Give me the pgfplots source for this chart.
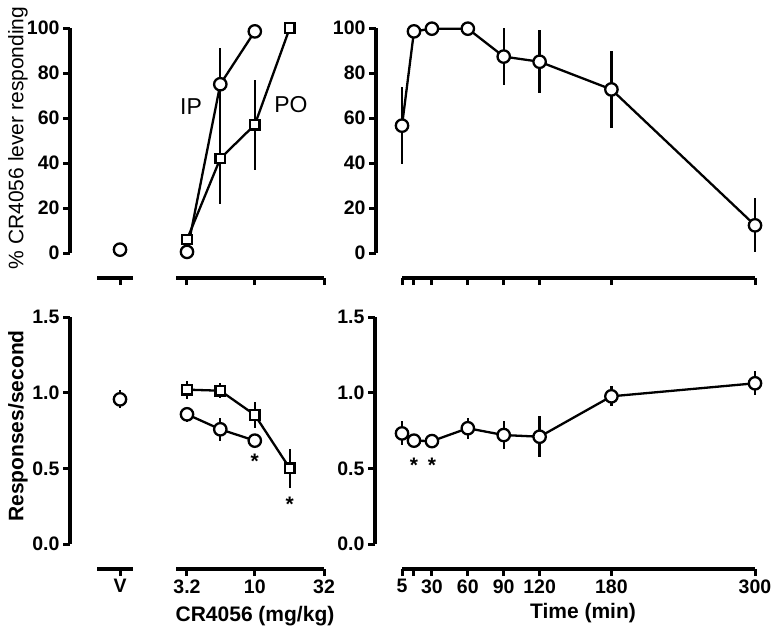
\documentclass[border=0pt]{standalone}
\usepackage{fontspec}
\setmainfont{Liberation Sans}
\usepackage{pgfplots}
\usepackage{pgfplotstable}
\pgfplotsset{compat=1.18}
\newcommand{\tickfont}{\fontsize{19.5}{20}\selectfont\bfseries}
\newcommand{\astfont}{\fontsize{21}{21}\selectfont\bfseries}
% ---- data: x, mean, sem ----
\pgfplotstableread{
x y e
0 1.5 0
}\tlv
\pgfplotstableread{
x y e
3.2 0.5 0.5
5.6 75 16
10 98.5 1
}\tlip
\pgfplotstableread{
x y e
3.2 6 2
5.6 42 20
10 57 20
18 100 0
}\tlpo
\pgfplotstableread{
x y e
5 56.6 17
15 98.5 1
30 99.7 0.5
60 99.7 0.5
90 87.3 12.5
120 85 14
180 72.7 17
300 12.3 12
}\trt
\pgfplotstableread{
x y e
0 0.956 0.06
}\blv
\pgfplotstableread{
x y e
3.2 0.857 0.05
5.6 0.758 0.075
10 0.683 0.03
}\blip
\pgfplotstableread{
x y e
3.2 1.02 0.06
5.6 1.013 0.05
10 0.853 0.085
18 0.50 0.13
}\blpo
\pgfplotstableread{
x y e
5 0.731 0.08
15 0.683 0.02
30 0.68 0.02
60 0.765 0.07
90 0.72 0.095
120 0.709 0.135
180 0.976 0.065
300 1.062 0.08
}\brt
\pgfplotsset{
  base/.style={scale only axis, clip=false,
    axis line style={line width=3.4pt, -},
    every tick/.style={line width=3pt, black},
    tick align=outside, major tick length=7pt,
    ticklabel style={font=\tickfont},
    minor tick num=0},
  yax/.style={base, width=10pt, xmin=0, xmax=1, axis y line*=left, axis x line=none, ytick pos=left},
  seg/.style={base, axis x line*=bottom, axis y line=none, xtick pos=bottom, ytick=\empty},
  errs/.style={black, forget plot, only marks, mark=none,
     error bars/y dir=both, error bars/y explicit, error bars/error mark=none,
     error bars/error bar style={line width=2.4pt}},
  ser/.style={black, line width=2.3pt, mark options={fill=white, line width=2.3pt, solid}},
  circ/.style={mark=*, mark size=6.2pt},
  sq/.style={mark=square*, mark size=4.8pt},
}
\newcommand{\series}[2]{%
  \addplot[errs] table[x=x, y=y, y error=e] {#1};
  \addplot[ser, #2] table[x=x, y=y] {#1};
}
\begin{document}
\begin{tikzpicture}
\useasboundingbox (0,0) rectangle (775pt,-632pt);
% ---------------- top left ----------------
\begin{axis}[yax, at={(70pt,-253pt)}, anchor=south west, height=225pt,
  ymin=0, ymax=100, ytick={0,20,40,60,80,100}, yticklabels={0,20,40,60,80,100}]
\addplot[draw=none] coordinates {(0.5,50)};
\end{axis}
\begin{axis}[seg, at={(97pt,-278pt)}, anchor=south west, width=36pt, height=250pt,
  xmin=-23, xmax=13, ymin=-11.111, ymax=100, xtick={0}, xticklabels={}]
\series{\tlv}{circ}
\end{axis}
\begin{axis}[seg, at={(176pt,-278pt)}, anchor=south west, width=148pt, height=250pt,
  xmode=log, xmin=2.66, xmax=32, ymin=-11.111, ymax=100, xtick={3.2,10,32}, xticklabels={}]
\series{\tlpo}{sq}
\series{\tlip}{circ}
\end{axis}
% ---------------- top right ----------------
\begin{axis}[yax, at={(376pt,-253pt)}, anchor=south west, height=225pt,
  ymin=0, ymax=100, ytick={0,20,40,60,80,100}, yticklabels={0,20,40,60,80,100}]
\addplot[draw=none] coordinates {(0.5,50)};
\end{axis}
\begin{axis}[seg, at={(402pt,-278pt)}, anchor=south west, width=353pt, height=250pt,
  xmin=5, xmax=300, ymin=-11.111, ymax=100, xtick={5,15,30,60,90,120,180,300}, xticklabels={}]
\series{\trt}{circ}
\end{axis}
% ---------------- bottom left ----------------
\begin{axis}[yax, at={(70pt,-544pt)}, anchor=south west, height=227pt,
  ymin=0, ymax=1.5, ytick={0,0.5,1,1.5}, yticklabels={0.0,0.5,1.0,1.5}]
\addplot[draw=none] coordinates {(0.5,0.5)};
\end{axis}
\begin{axis}[seg, at={(97pt,-569pt)}, anchor=south west, width=36pt, height=252pt,
  xmin=-23, xmax=13, ymin=-0.1652, ymax=1.5, xtick={0}, xticklabels={V}]
\series{\blv}{circ}
\end{axis}
\begin{axis}[seg, at={(176pt,-569pt)}, anchor=south west, width=148pt, height=252pt,
  xmode=log, xmin=2.66, xmax=32, ymin=-0.1652, ymax=1.5, xtick={3.2,10,32}, xticklabels={3.2,10,32}]
\series{\blpo}{sq}
\series{\blip}{circ}
\node[font=\astfont] at (axis cs:10,0.55) {*};
\node[font=\astfont] at (axis cs:18,0.26) {*};
\end{axis}
% ---------------- bottom right ----------------
\begin{axis}[yax, at={(375pt,-544pt)}, anchor=south west, height=227pt,
  ymin=0, ymax=1.5, ytick={0,0.5,1,1.5}, yticklabels={0.0,0.5,1.0,1.5}]
\addplot[draw=none] coordinates {(0.5,0.5)};
\end{axis}
\begin{axis}[seg, at={(402pt,-569pt)}, anchor=south west, width=353pt, height=252pt,
  xmin=5, xmax=300, ymin=-0.1652, ymax=1.5, xtick={5,15,30,60,90,120,180,300},
  xticklabels={5,,30,60,90,120,180,300}]
\series{\brt}{circ}
\node[font=\astfont] at (axis cs:15,0.52) {*};
\node[font=\astfont] at (axis cs:30,0.52) {*};
\end{axis}
% ---------------- labels ----------------
\node[rotate=90, font=\fontsize{21}{21}\selectfont] at (18pt,-138pt) {\% CR4056 lever responding};
\node[rotate=90, font=\fontsize{21}{21}\selectfont\bfseries] at (18pt,-426pt) {Responses/second};
\node[font=\fontsize{21}{21}\selectfont\bfseries] at (255pt,-616pt) {CR4056 (mg/kg)};
\node[font=\fontsize{21}{21}\selectfont\bfseries] at (583pt,-613pt) {Time (min)};
\node[font=\fontsize{23}{23}\selectfont] at (191pt,-107pt) {IP};
\node[font=\fontsize{23}{23}\selectfont] at (291pt,-105pt) {PO};
\end{tikzpicture}
\end{document}
